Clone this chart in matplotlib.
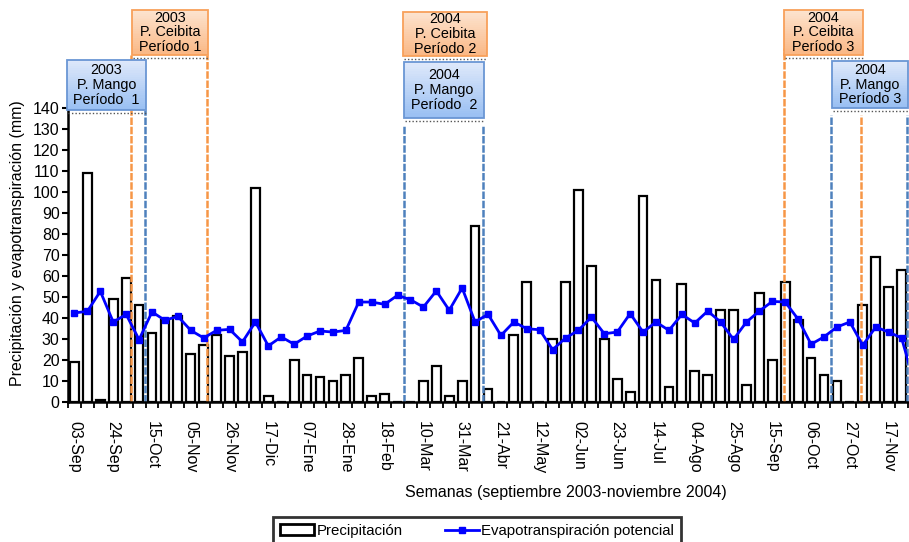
import numpy as np
import matplotlib
matplotlib.use("Agg")
import matplotlib.pyplot as plt
from matplotlib.patches import Rectangle
from matplotlib.lines import Line2D
from matplotlib.transforms import blended_transform_factory

plt.rcParams['font.family'] = ['Liberation Sans', 'DejaVu Sans']

# ---------------- data ----------------
tick_labels = ["03-Sep", "24-Sep", "15-Oct", "05-Nov", "26-Nov", "17-Dic", "07-Ene",
               "28-Ene", "18-Feb", "10-Mar", "31-Mar", "21-Abr", "12-May", "02-Jun",
               "23-Jun", "14-Jul", "04-Ago", "25-Ago", "15-Sep", "06-Oct", "27-Oct",
               "17-Nov"]

precipitacion = [19, 109, 1, 49, 59, 46, 33, 39, 41, 23, 27, 32, 22, 24, 102, 3, 0,
                 20, 13, 12, 10, 13, 21, 3, 4, 0, 0, 10, 17, 3, 10, 84, 6, 0, 32, 57,
                 0, 30, 57, 101, 65, 30, 11, 5, 98, 58, 7, 56, 15, 13, 44, 44, 8, 52,
                 20, 57, 39, 21, 13, 10, 0, 46, 69, 55, 63]

evapotranspiracion = [42.4, 43.2, 52.7, 38.1, 41.7, 29.7, 42.9, 38.9, 40.8, 34.1, 30.5,
                      34.1, 34.6, 28.6, 38.1, 26.7, 31.0, 27.5, 31.4, 33.8, 33.3, 34.1,
                      47.6, 47.6, 46.5, 50.8, 48.7, 45.2, 52.9, 43.7, 54.3, 38.1, 41.8,
                      31.7, 38.1, 34.9, 34.4, 24.9, 30.5, 34.1, 40.5, 32.5, 33.3, 42.1,
                      33.3, 38.1, 34.1, 41.7, 37.6, 43.3, 38.1, 29.8, 38.1, 43.3, 47.9,
                      47.6, 39.4, 27.5, 31.0, 35.7, 38.1, 27.0, 35.7, 33.3, 30.5, 9.0]

# period annotation boxes: (text, kind, x-left, x-right in week units)
periodos = [
    ("2003\nP. Mango\nPeríodo  1", "mango", -0.58, 5.53),
    ("2003\nP. Ceibita\nPeríodo 1", "ceibita", 4.45, 10.33),
    ("2004\nP. Ceibita\nPeríodo 2", "ceibita", 25.42, 31.92),
    ("2004\nP. Mango\nPeríodo  2", "mango", 25.5, 31.7),
    ("2004\nP. Ceibita\nPeríodo 3", "ceibita", 54.9, 61.0),
    ("2004\nP. Mango\nPeríodo 3", "mango", 58.63, 64.5),
]
# vertical limit lines (week units)
lineas_x = [4.37, 5.46, 10.26, 25.5, 31.6, 54.9, 58.55, 60.87, 64.43]
lineas_kind = ["ceibita", "mango", "ceibita", "mango", "mango", "ceibita", "mango",
               "ceibita", "mango"]

# ---------------- figure ----------------
W, H = 909, 542
fig = plt.figure(figsize=(W / 100, H / 100), dpi=100)
ax = fig.add_axes([68 / W, (H - 402) / H, 840 / W, 294 / H])

n = len(precipitacion)
x = np.arange(n)
ax.bar(x, precipitacion, width=0.68, facecolor='white', edgecolor='black',
       linewidth=1.6, zorder=2)
xe = np.arange(len(evapotranspiracion))
ax.plot(xe, evapotranspiracion, color='#0000FF', lw=2.0, marker='s', ms=5,
        zorder=4, clip_on=True)

ax.set_xlim(-0.5, n - 0.5)
ax.set_ylim(0, 140)
ax.set_yticks(np.arange(0, 141, 10))
ax.tick_params(axis='y', direction='out', length=4, width=1.5, labelsize=11.5, pad=2)

ax.set_xticks(np.arange(-0.5, n, 1))
ax.set_xticklabels([])
ax.tick_params(axis='x', which='major', direction='out', length=4, width=1.3)
ax.set_xticks(np.arange(0, 3 * len(tick_labels), 3), minor=True)
ax.set_xticklabels(tick_labels, minor=True, rotation=270, fontsize=11.5)
ax.tick_params(axis='x', which='minor', length=0, pad=14)

for s in ['top', 'right']:
    ax.spines[s].set_visible(False)
for s in ['left', 'bottom']:
    ax.spines[s].set_linewidth(1.8)
ax.spines['bottom'].set_zorder(5)

fig.text(18 / W, 1 - 243 / H, "Precipitación y evapotranspiración (mm)", rotation=90,
         ha='center', va='center', fontsize=11.5)
fig.text(566 / W, 1 - 493 / H, "Semanas (septiembre 2003-noviembre 2004)",
         ha='center', va='center', fontsize=11.5,
         family=['Liberation Sans Narrow', 'Liberation Sans', 'DejaVu Sans'])

# ---------------- period lines & boxes ----------------
colors = {
    "mango": dict(edge='#6A96D4', top=np.array([0.87, 0.91, 0.98]),
                  bot=np.array([0.60, 0.75, 0.95]), line='#4F81BD'),
    "ceibita": dict(edge='#F8A05A', top=np.array([0.99, 0.89, 0.81]),
                    bot=np.array([0.98, 0.72, 0.52]), line='#F79646'),
}

def ya(ypix):
    return (402 - ypix) / 294.0

line_top_pix = [55, 110, 55, 126, 126, 48, 115, 115, 115]
for lx, kind, tp in zip(lineas_x, lineas_kind, line_top_pix):
    ax.axvline(lx, ymin=0, ymax=ya(tp), color=colors[kind]['line'], lw=1.8,
               ls=(0, (3, 0.7)), clip_on=False, zorder=3)

trans = blended_transform_factory(ax.transData, fig.transFigure)
box_y = [(60, 110), (10, 55), (12, 56), (62, 118), (10, 55), (61, 108)]
for (txt, kind, x0, x1), (yt, yb) in zip(periodos, box_y):
    c = colors[kind]
    nst = 24
    f0 = 1 - yb / H
    f1 = 1 - yt / H
    hs = (f1 - f0) / nst
    for k in range(nst):
        t = k / (nst - 1)
        col = c['bot'] * (1 - t) + c['top'] * t
        fig.patches.append(Rectangle((x0, f0 + k * hs), x1 - x0, hs * 1.05,
                                     transform=trans, facecolor=col, edgecolor='none',
                                     zorder=6))
    fig.patches.append(Rectangle((x0, f0), x1 - x0, f1 - f0, transform=trans,
                                 facecolor='none', edgecolor=c['edge'], lw=1.3,
                                 zorder=7))
    fig.lines.append(Line2D([x0 + 0.1, x1], [1 - (yb + 2.5) / H] * 2, transform=trans,
                            color='#555555', lw=1.0, ls=(0, (1, 1.5)), zorder=7))
    fig.text((x0 + x1) / 2, (f0 + f1) / 2, txt, transform=trans, ha='center',
             va='center', fontsize=10.4, linespacing=1.08, zorder=8)

# ---------------- legend ----------------
h_bar = Rectangle((0, 0), 1, 1, facecolor='white', edgecolor='black', lw=2.0)
h_line = Line2D([], [], color='#0000FF', lw=2.0, marker='s', ms=5)
leg = fig.legend([h_bar, h_line], ["Precipitación", "Evapotranspiración potencial"],
                 loc='upper center', bbox_to_anchor=(477 / W, 1 - 517 / H), ncol=2,
                 frameon=True, fancybox=False, fontsize=10.8, handlelength=2.3,
                 handletextpad=0.15, columnspacing=2.8, borderpad=0.45,
                 borderaxespad=0.0)
leg.get_frame().set_edgecolor('black')
leg.get_frame().set_linewidth(2.0)

fig.savefig("out.png", dpi=100)
